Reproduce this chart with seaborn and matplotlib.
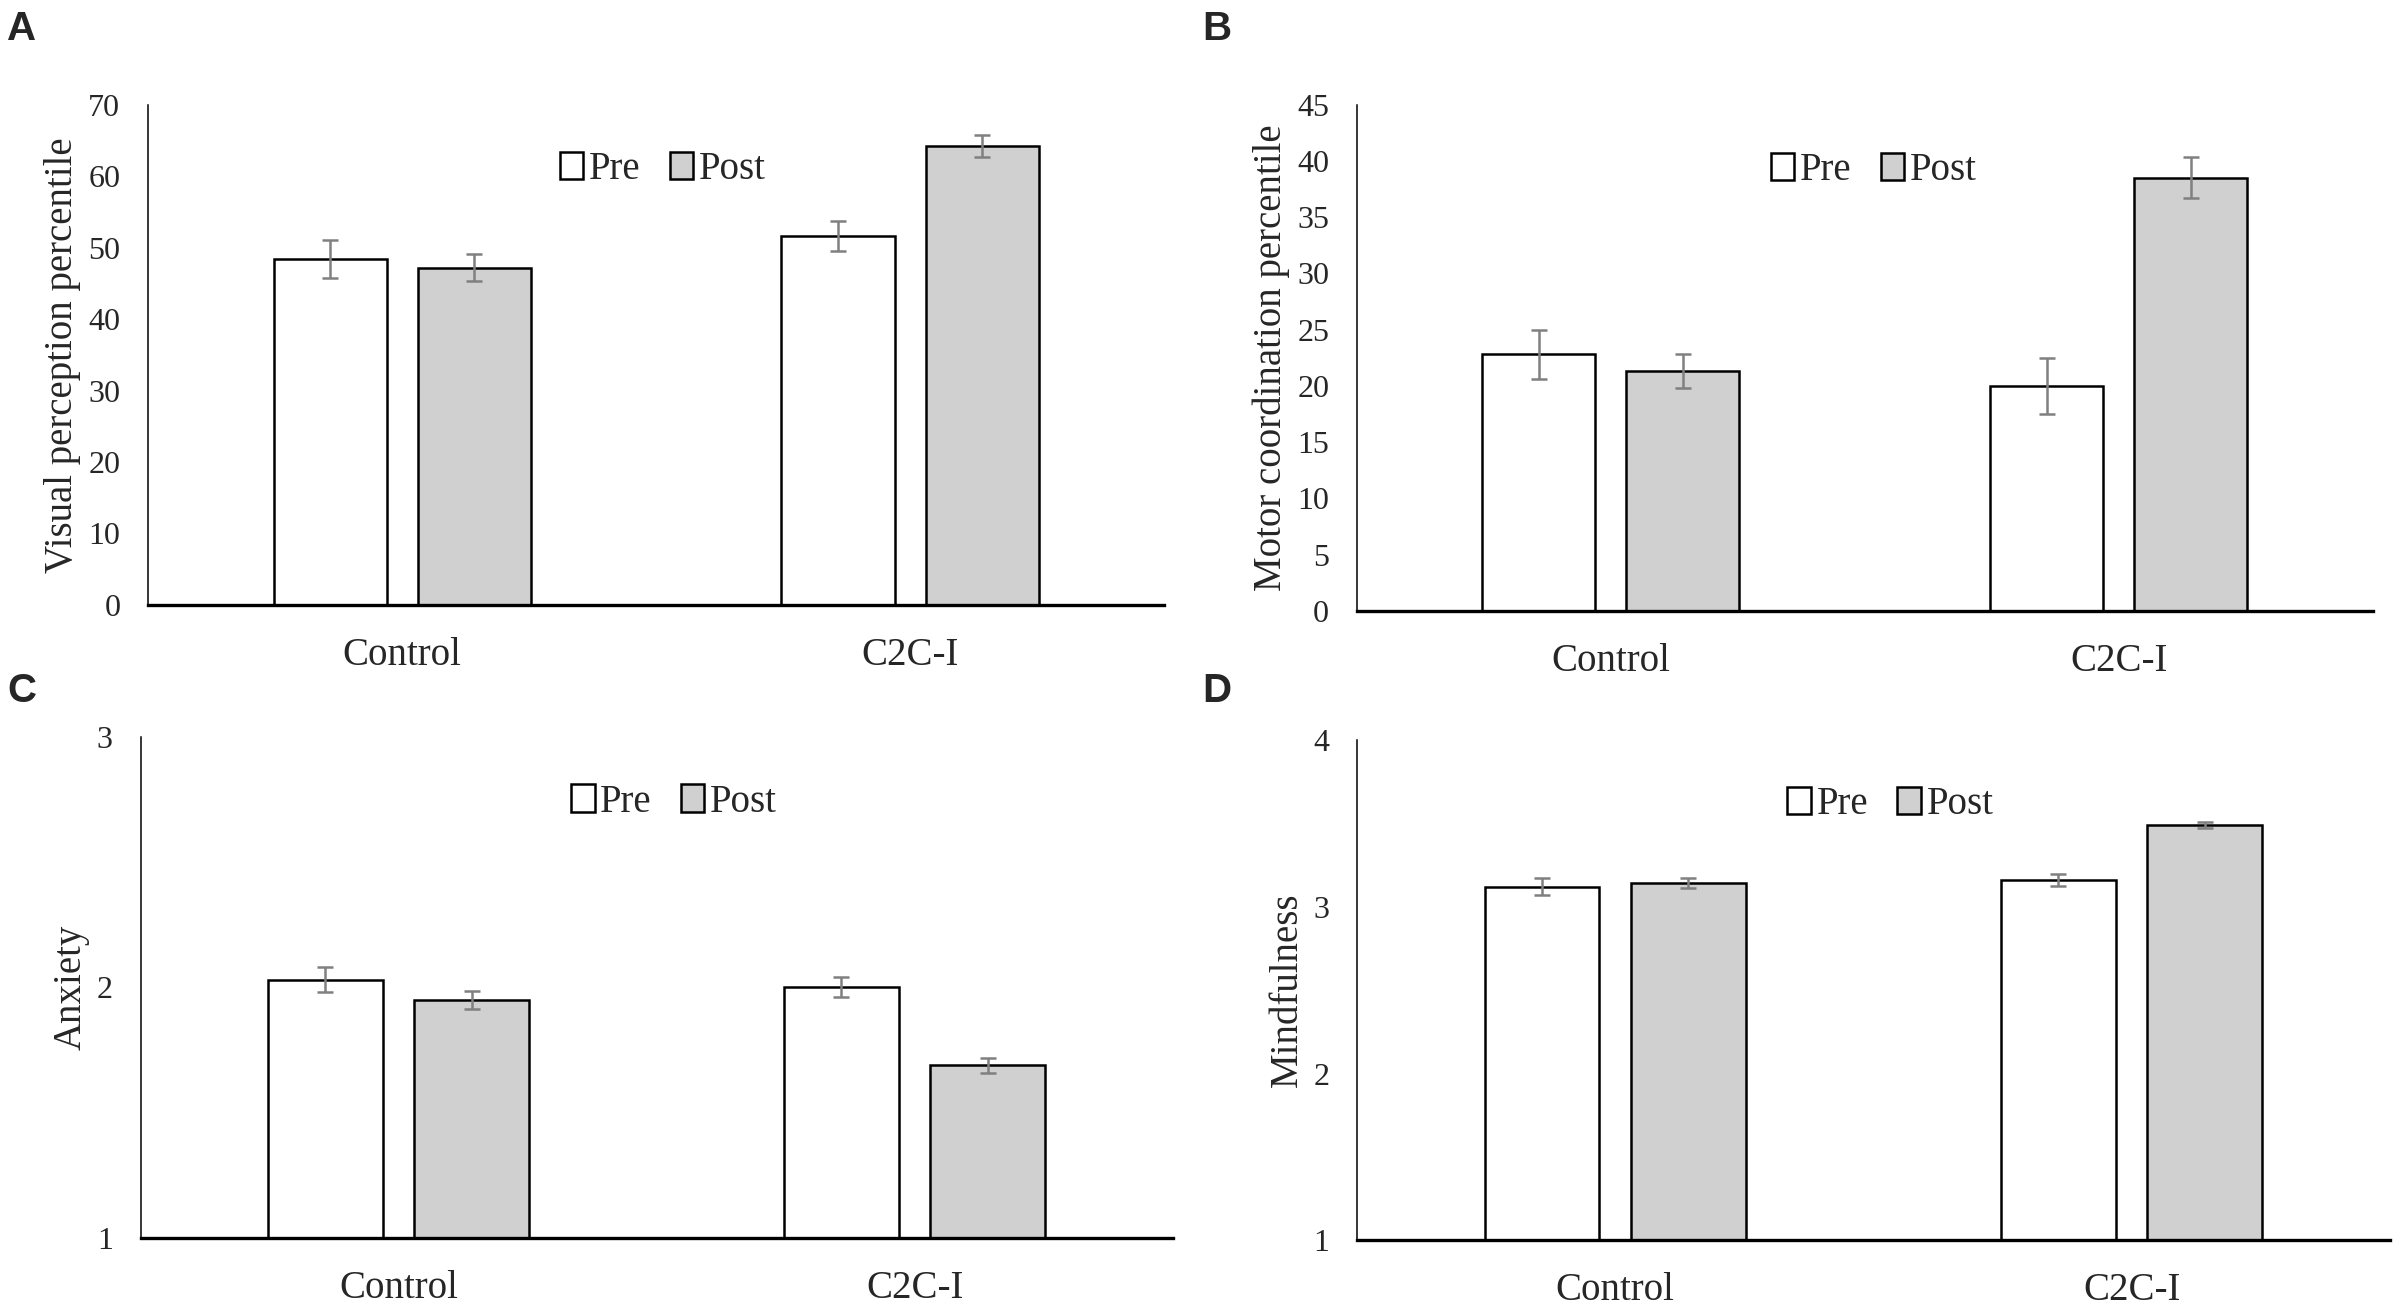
import matplotlib
matplotlib.use("Agg")
import matplotlib.pyplot as plt
import seaborn as sns
import pandas as pd
from matplotlib.patches import Patch

groups = ["Control", "C2C-I"]
phases = ["Pre", "Post"]

visual_pre = [48.4, 51.6]
visual_post = [47.2, 64.2]
visual_pre_err = [2.6, 2.1]
visual_post_err = [1.9, 1.5]

motor_pre = [22.8, 20.0]
motor_post = [21.3, 38.5]
motor_pre_err = [2.2, 2.5]
motor_post_err = [1.5, 1.8]

anxiety_pre = [2.03, 2.00]
anxiety_post = [1.95, 1.69]
anxiety_pre_err = [0.05, 0.04]
anxiety_post_err = [0.037, 0.03]

mind_pre = [3.12, 3.16]
mind_post = [3.14, 3.49]
mind_pre_err = [0.05, 0.035]
mind_post_err = [0.03, 0.02]

panels = [
    ("A", "Visual perception percentile", visual_pre, visual_post, visual_pre_err, visual_post_err, (0, 70), list(range(0, 71, 10))),
    ("B", "Motor coordination percentile", motor_pre, motor_post, motor_pre_err, motor_post_err, (0, 45), list(range(0, 46, 5))),
    ("C", "Anxiety", anxiety_pre, anxiety_post, anxiety_pre_err, anxiety_post_err, (1, 3), [1, 2, 3]),
    ("D", "Mindfulness", mind_pre, mind_post, mind_pre_err, mind_post_err, (1, 4), [1, 2, 3, 4]),
]

sns.set_theme(style="white")
plt.rcParams["font.family"] = ["Liberation Serif", "DejaVu Serif"]

fig = plt.figure(figsize=(24, 13.12), dpi=100)

axes_rects = [
    (0.0617, 0.5389, 0.4233, 0.3814),
    (0.5654, 0.5343, 0.4233, 0.3860),
    (0.0586, 0.0564, 0.4300, 0.3819),
    (0.5654, 0.0545, 0.4304, 0.3817),
]
legend_x = [0.507, 0.509, 0.517, 0.5165]
letter_pos = [(0.003, 0.9924), (0.501, 0.9924), (0.003, 0.4878), (0.501, 0.4878)]

palette = {"Pre": "#FFFFFF", "Post": "#D0D0D0"}

for (letter, ylabel, pre, post, pre_err, post_err, ylim, yticks), rect, lx, lp in zip(panels, axes_rects, legend_x, letter_pos):
    ax = fig.add_axes(rect)
    df = pd.DataFrame({
        "group": groups * 2,
        "phase": ["Pre"] * len(groups) + ["Post"] * len(groups),
        "value": list(pre) + list(post),
        "err": list(pre_err) + list(post_err),
    })
    sns.barplot(data=df, x="group", y="value", hue="phase", hue_order=phases,
                order=groups, palette=palette, errorbar=None, width=0.567, gap=0.215,
                edgecolor="black", linewidth=1.8, ax=ax, legend=False)
    patches = [p for p in ax.patches]
    for p, (_, row) in zip(patches, df.iterrows()):
        cx = p.get_x() + p.get_width() / 2
        ax.errorbar(cx, p.get_height(), yerr=row["err"], color="#808080",
                    elinewidth=1.8, capsize=5.5, capthick=1.8, fmt="none", zorder=5)
    ax.set_xlim(-0.5, 1.5)
    ax.set_ylim(*ylim)
    ax.set_yticks(yticks)
    ax.set_yticklabels([str(t) for t in yticks])
    ax.set_xlabel("")
    ax.set_ylabel(ylabel, fontsize=28, labelpad=5)
    ax.tick_params(axis="y", length=0, pad=20, labelsize=23)
    ax.tick_params(axis="x", length=0, pad=23, labelsize=28)
    for s in ["top", "right"]:
        ax.spines[s].set_visible(False)
    ax.spines["left"].set_linewidth(1.1)
    ax.spines["left"].set_color("black")
    ax.spines["bottom"].set_linewidth(2.4)
    ax.spines["bottom"].set_color("black")
    ax.spines["bottom"].set_zorder(6)
    handles = [Patch(facecolor=palette[ph], edgecolor="black", linewidth=1.8, label=ph) for ph in phases]
    ax.legend(handles=handles, loc="center", bbox_to_anchor=(lx, 0.870), ncol=2,
              frameon=False, fontsize=28, handlelength=0.6, handleheight=0.7,
              handletextpad=0.15, columnspacing=0.75)
    fig.text(lp[0], lp[1], letter, fontsize=29, fontweight="bold",
             family=["Liberation Sans", "DejaVu Sans"], va="top", ha="left")

fig.savefig("out.png", dpi=100, facecolor="white")
